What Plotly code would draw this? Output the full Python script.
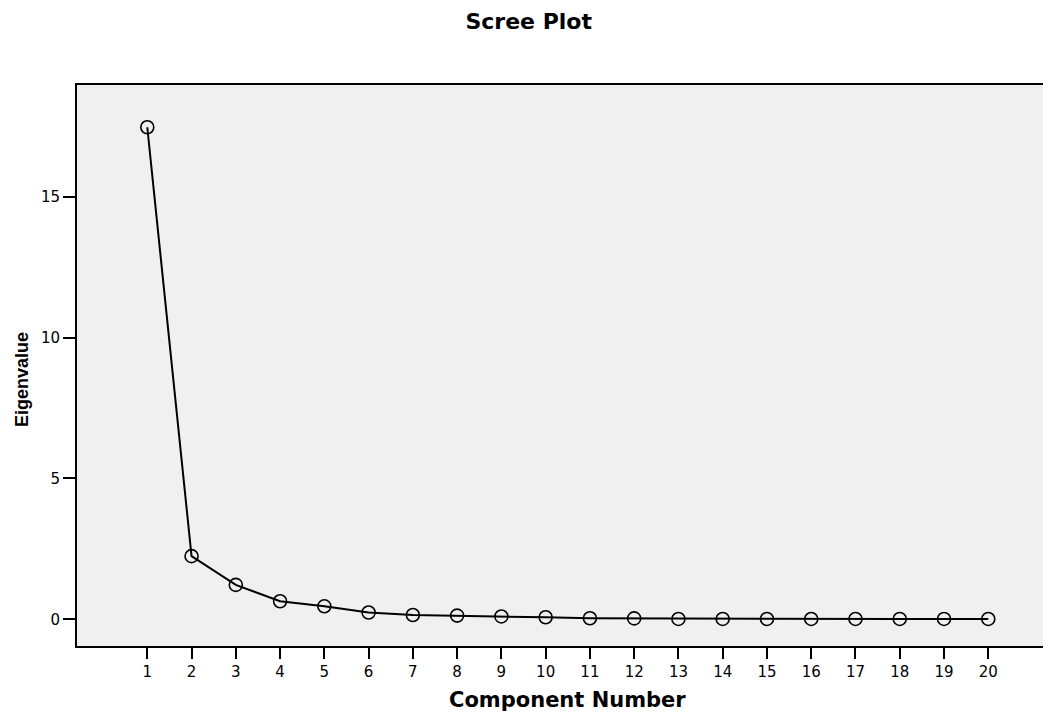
import plotly.graph_objects as go

components = list(range(1, 21))
eigenvalues = [17.47, 2.24, 1.22, 0.64, 0.46, 0.24, 0.15, 0.13, 0.10, 0.07,
               0.035, 0.03, 0.01, 0.01, 0.01, 0.01, 0.01, 0.01, 0.01, 0.01]
y_ticks = [0, 5, 10, 15]

WIDE = "DejaVu Sans, Verdana, sans-serif"

fig = go.Figure()
fig.add_trace(go.Scatter(
    x=components, y=eigenvalues, mode="lines+markers",
    line=dict(color="black", width=2),
    marker=dict(symbol="circle-open", size=13, color="black", line=dict(width=1.6)),
    showlegend=False, cliponaxis=False,
))

fig.update_layout(
    width=1043, height=705,
    margin=dict(l=69, r=0, t=77, b=67),
    paper_bgcolor="white", plot_bgcolor="#f0f0f0",
    font=dict(family=WIDE, color="black", size=15),
    title=dict(text="<b>Scree Plot</b>", x=(528.7 - 8) / 1043, xanchor="center",
               xref="container", y=1 - (21 - 8) / 705, yanchor="middle",
               font=dict(size=22, family=WIDE)),
    annotations=[
        dict(text="<b>Component Number</b>", xref="paper", yref="paper",
             x=(567.5 - 77) / 974, y=0, xanchor="center", yanchor="middle",
             yshift=-(700 - 646), showarrow=False,
             font=dict(size=21, family=WIDE)),
        dict(text="<b>Eigenvalue</b>", xref="paper", yref="paper",
             x=0, y=(646 - 380) / 561, xanchor="center", yanchor="middle",
             xshift=-(77 - 22), textangle=-90, showarrow=False,
             font=dict(size=18, family="Liberation Sans, Arial, sans-serif")),
    ],
)
fig.update_xaxes(
    range=[-0.588, 21.417], tickmode="array", tickvals=components,
    ticks="outside", ticklen=11, tickwidth=2, tickcolor="black",
    showline=True, linewidth=2, linecolor="black", mirror=True,
    showgrid=False, zeroline=False,
)
fig.update_yaxes(
    range=[-0.95, 18.97], tickmode="array", tickvals=y_ticks,
    ticks="outside", ticklen=12, tickwidth=2, tickcolor="black",
    showline=True, linewidth=2, linecolor="black",
    showgrid=False, zeroline=False,
)

fig.write_html("out.html")
